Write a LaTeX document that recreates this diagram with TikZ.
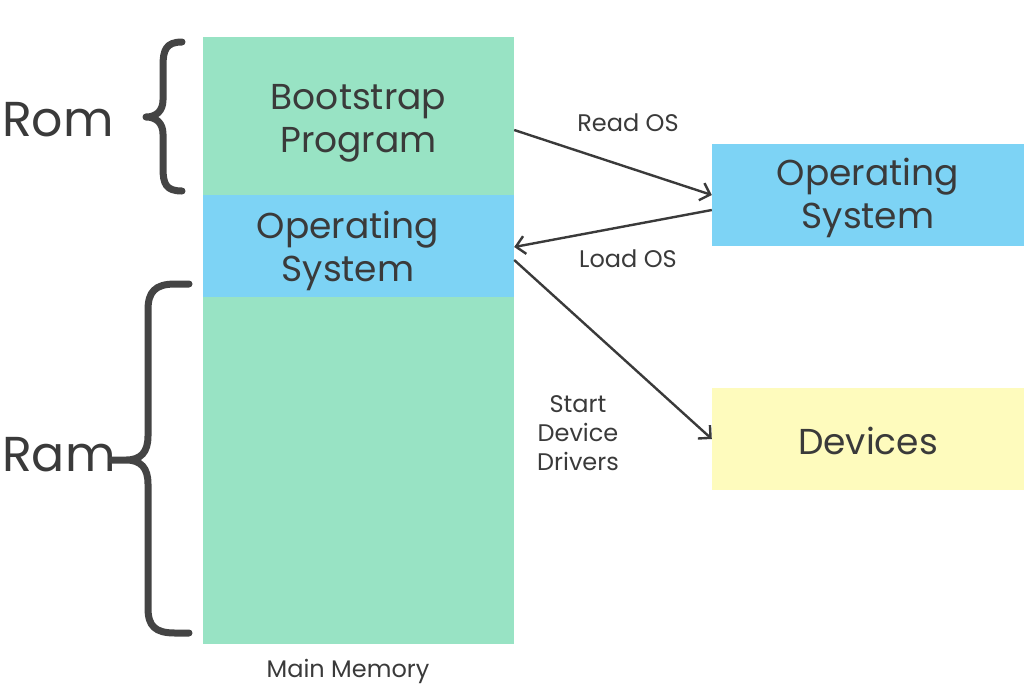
\documentclass[tikz,border=0pt]{standalone}
\usepackage{fontspec}
\setmainfont{Poppins}
\usetikzlibrary{arrows.meta}
\definecolor{memgreen}{HTML}{98E3C4}
\definecolor{osblue}{HTML}{7DD3F5}
\definecolor{devyellow}{HTML}{FEFBBD}
\definecolor{ink}{HTML}{3A3A3A}
\tikzset{
  block/.style={draw=none, inner sep=0pt, align=center, text=ink, font=\fontsize{36}{43}\selectfont},
  txt/.style={inner sep=0pt, align=center, text=ink, font=\fontsize{36}{43}\selectfont},
  side/.style={text=ink, font=\fontsize{49}{55}\selectfont, anchor=west, inner sep=0pt},
  small/.style={text=ink, font=\fontsize{24}{29}\selectfont, align=center, inner sep=0pt},
  conn/.style={draw=ink, line width=2.4pt, -{Straight Barb[length=9pt,width=18pt,line width=2.4pt]}},
  bracepath/.style={draw=ink!95, line width=7pt, line cap=round, line join=round}
}
\begin{document}
\begin{tikzpicture}[x=1pt,y=-1pt]
\useasboundingbox (0,0) rectangle (1024,686);
% main memory column
\node[block, fill=memgreen, minimum width=311, minimum height=158] (boot) at (358.5,116) {};
\node[txt] (boottxt) at (358.5,123) {Bootstrap\\Program};
\node[block, fill=osblue, minimum width=311, minimum height=102] (memos) at (358.5,246) {};
\node[txt] (memostxt) at (348,251) {Operating\\System};
\node[block, fill=memgreen, minimum width=311, minimum height=347] (ram) at (358.5,470.5) {};
\node[small, anchor=center] (mm) at (348,671) {Main Memory};
% right boxes
\node[block, fill=osblue, minimum width=312, minimum height=102] (os) at (868,195) {};
\node[txt] (ostxt) at (868,198) {Operating\\System};
\node[block, fill=devyellow, minimum width=312, minimum height=102] (dev) at (868,439) {};
\node[txt] (devtxt) at (868,441) {Devices};
% side labels
\node[side] (rom) at (2,120) {Rom};
\node[side] (ramlbl) at (2,455) {Ram};
% braces
\draw[bracepath] (182,42) .. controls (166,42) and (163,50) .. (163,66) -- (163,100)
  .. controls (163,111) and (156,117) .. (146,117)
  .. controls (156,117) and (163,123) .. (163,134) -- (163,168)
  .. controls (163,184) and (166,191) .. (182,191);
\draw[bracepath] (189,284) -- (175,284) .. controls (155,284) and (148,292) .. (148,310) -- (148,436)
  .. controls (148,452) and (141,460) .. (126,460) -- (112,460) -- (126,460)
  .. controls (141,460) and (148,468) .. (148,484) -- (148,608)
  .. controls (148,626) and (155,633) .. (175,633) -- (189,633);
% connectors
\draw[conn] ([yshift=-14]boot.east) -- (os.west);
\draw[conn] ([yshift=-15]os.west) -- ([yshift=-1]memos.east);
\draw[conn] ([yshift=-14]memos.east) -- (dev.west);
\node[small] (rd) at (628,123) {Read OS};
\node[small] (ld) at (628,259) {Load OS};
\node[small] (sdd) at (578,433) {Start\\Device\\Drivers};
\end{tikzpicture}
\end{document}
